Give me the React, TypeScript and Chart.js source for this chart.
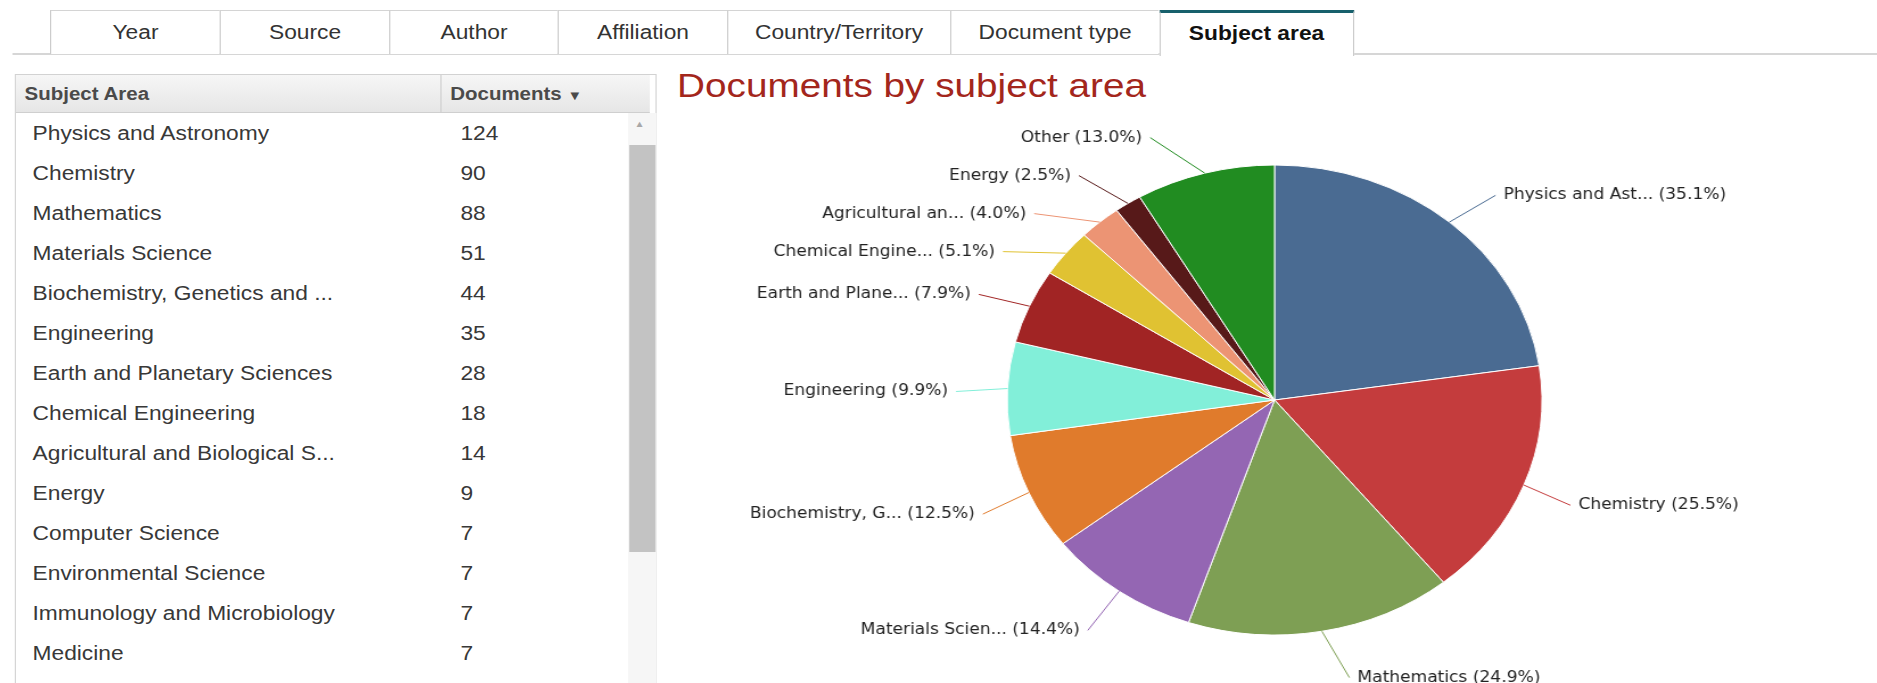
import React, { useEffect, useRef } from "react";
import { Chart, registerables } from "chart.js";

Chart.register(...registerables);

// ---------- data ----------
const tabNames = ["Year", "Source", "Author", "Affiliation", "Country/Territory", "Document type", "Subject area"];
const activeTab = "Subject area";

const tableSubjects = [
  "Physics and Astronomy",
  "Chemistry",
  "Mathematics",
  "Materials Science",
  "Biochemistry, Genetics and ...",
  "Engineering",
  "Earth and Planetary Sciences",
  "Chemical Engineering",
  "Agricultural and Biological S...",
  "Energy",
  "Computer Science",
  "Environmental Science",
  "Immunology and Microbiology",
  "Medicine",
];
const tableDocuments = [124, 90, 88, 51, 44, 35, 28, 18, 14, 9, 7, 7, 7, 7];

const pieLabels = [
  "Physics and Ast...",
  "Chemistry",
  "Mathematics",
  "Materials Scien...",
  "Biochemistry, G...",
  "Engineering",
  "Earth and Plane...",
  "Chemical Engine...",
  "Agricultural an...",
  "Energy",
  "Other",
];
const pieCounts = [124, 90, 88, 51, 44, 35, 28, 18, 14, 9, 46];
const piePercents = [35.1, 25.5, 24.9, 14.4, 12.5, 9.9, 7.9, 5.1, 4.0, 2.5, 13.0];
const pieColors = [
  "#4a6b92",
  "#c43c3d",
  "#7e9f54",
  "#9466b3",
  "#e07b2c",
  "#82efd9",
  "#a12424",
  "#e0c232",
  "#ec9474",
  "#571919",
  "#218c21",
];

// ---------- layout (design units, page is stretched horizontally) ----------
const STRETCH = 1.138;
const DESIGN_W = 1650;
const tabEdges = [43.9, 193.3, 341.8, 490.3, 638.8, 834.8, 1018.5, 1189.8];

const FONT = "'Liberation Sans', Arial, sans-serif";

const outsideLabels = {
  id: "outsideLabels",
  afterDatasetsDraw(chart: any) {
    const ctx = chart.ctx;
    const meta = chart.getDatasetMeta(0);
    const items = meta.data.map((arc: any, i: number) => {
      const p = arc.getProps(["x", "y", "startAngle", "endAngle", "outerRadius"], true);
      const mid = (p.startAngle + p.endAngle) / 2;
      const r = p.outerRadius;
      const c = Math.cos(mid);
      const s = Math.sin(mid);
      return {
        i,
        cx: p.x,
        cy: p.y,
        r,
        ex: p.x + r * c,
        ey: p.y + r * s,
        right: c >= 0,
        y: p.y + (r + 42) * s + 5,
      };
    });
    const gap = 38;
    [true, false].forEach((side) => {
      const list = items.filter((it: any) => it.right === side).sort((a: any, b: any) => a.y - b.y);
      for (let k = 1; k < list.length; k++) {
        if (list[k].y < list[k - 1].y + gap) list[k].y = list[k - 1].y + gap;
      }
    });
    ctx.save();
    ctx.font = "15px 'DejaVu Sans', sans-serif";
    ctx.textBaseline = "middle";
    items.forEach((it: any) => {
      const R = it.r + 52;
      const dy = Math.max(-R, Math.min(R, it.y - it.cy));
      const dx = Math.sqrt(R * R - dy * dy);
      const lx = it.cx + (it.right ? dx : -dx);
      ctx.strokeStyle = pieColors[it.i];
      ctx.lineWidth = 1;
      ctx.beginPath();
      ctx.moveTo(it.ex, it.ey);
      ctx.lineTo(lx + (it.right ? -7 : 7), it.y);
      ctx.stroke();
      ctx.fillStyle = "#222";
      ctx.textAlign = it.right ? "left" : "right";
      ctx.fillText(`${pieLabels[it.i]} (${piePercents[it.i].toFixed(1)}%)`, lx, it.y);
    });
    ctx.restore();
  },
};

function PieChart() {
  const ref = useRef<HTMLCanvasElement | null>(null);
  useEffect(() => {
    if (!ref.current) return;
    const chart = new Chart(ref.current, {
      type: "pie",
      data: {
        labels: pieLabels,
        datasets: [
          {
            data: pieCounts,
            backgroundColor: pieColors,
            borderColor: "#ffffff",
            borderWidth: 1,
            hoverOffset: 0,
            radius: 235,
          } as any,
        ],
      },
      options: {
        animation: false,
        responsive: false,
        devicePixelRatio: 1,
        layout: { padding: { left: 305, right: 294, top: 65, bottom: 48 } },
        plugins: {
          legend: { display: false },
          tooltip: { enabled: false },
          title: { display: false },
        },
      },
      plugins: [outsideLabels as any],
    });
    return () => chart.destroy();
  }, []);
  return <canvas ref={ref} width={1069} height={583} style={{ position: "absolute", left: 580, top: 100 }} />;
}

export default function App() {
  return (
    <div
      style={{
        position: "fixed",
        left: 0,
        top: 0,
        width: DESIGN_W,
        height: 683,
        transform: `scaleX(${STRETCH})`,
        transformOrigin: "0 0",
        background: "#fff",
        overflow: "hidden",
        fontFamily: FONT,
      }}
    >
      {/* tab underline */}
      <div style={{ position: "absolute", left: 10.5, right: 0, top: 53, height: 2, background: "#d6d6d6" }} />
      {tabNames.map((name, i) => {
        const active = name === activeTab;
        return (
          <div
            key={name}
            style={{
              position: "absolute",
              left: tabEdges[i],
              top: 10,
              width: tabEdges[i + 1] - tabEdges[i],
              height: active ? 46 : 44,
              boxSizing: "border-box",
              borderLeft: "1px solid #c9c9c9",
              borderRight: i === tabNames.length - 1 ? "1px solid #c9c9c9" : "none",
              borderTop: active ? "3px solid #17606c" : "1px solid #d4d4d4",
              background: "#fff",
              color: active ? "#111" : "#333",
              fontWeight: active ? "bold" : "normal",
              fontSize: 20,
              lineHeight: active ? "40px" : "42px",
              textAlign: "center",
              zIndex: active ? 2 : 1,
            }}
          >
            {name}
          </div>
        );
      })}

      {/* title */}
      <div
        style={{
          position: "absolute",
          left: 595,
          top: 64,
          fontSize: 34,
          lineHeight: "42px",
          color: "#a3261c",
          whiteSpace: "nowrap",
        }}
      >
        Documents by subject area
      </div>

      {/* table */}
      <div
        style={{
          position: "absolute",
          left: 12.6,
          top: 74,
          width: 564.5,
          height: 640,
          boxSizing: "border-box",
          border: "1px solid #d2d2d2",
          background: "#fff",
        }}
      >
        <div
          style={{
            position: "absolute",
            left: 0,
            top: 0,
            width: 557,
            height: 38,
            background: "linear-gradient(#f6f6f6, #e6e6e6)",
            borderBottom: "1px solid #cfcfcf",
            boxSizing: "border-box",
          }}
        >
          <div
            style={{
              position: "absolute",
              left: 8,
              top: 0,
              lineHeight: "38px",
              fontSize: 18,
              fontWeight: "bold",
              color: "#4a4a4a",
            }}
          >
            Subject Area
          </div>
          <div style={{ position: "absolute", left: 373, top: 0, width: 1, height: 38, background: "#cdcdcd" }} />
          <div
            style={{
              position: "absolute",
              left: 382,
              top: 0,
              lineHeight: "38px",
              fontSize: 18,
              fontWeight: "bold",
              color: "#4a4a4a",
              whiteSpace: "nowrap",
            }}
          >
            Documents <span style={{ fontSize: 13 }}>▼</span>
          </div>
        </div>
        {tableSubjects.map((name, i) => (
          <div
            key={name}
            style={{ position: "absolute", left: 0, top: 38 + i * 40, width: 540, height: 40, lineHeight: "40px", fontSize: 20, color: "#383838" }}
          >
            <span style={{ position: "absolute", left: 15, whiteSpace: "nowrap" }}>{name}</span>
            <span style={{ position: "absolute", left: 391 }}>{tableDocuments[i]}</span>
          </div>
        ))}
        {/* scrollbar */}
        <div style={{ position: "absolute", left: 538, top: 38, width: 25, height: 600, background: "#f6f6f6" }} />
        <div style={{ position: "absolute", left: 544, top: 44, fontSize: 9, color: "#a8a8a8" }}>▲</div>
        <div style={{ position: "absolute", left: 539, top: 70, width: 23.5, height: 407, background: "#c3c3c3" }} />
      </div>

      <PieChart />
    </div>
  );
}
